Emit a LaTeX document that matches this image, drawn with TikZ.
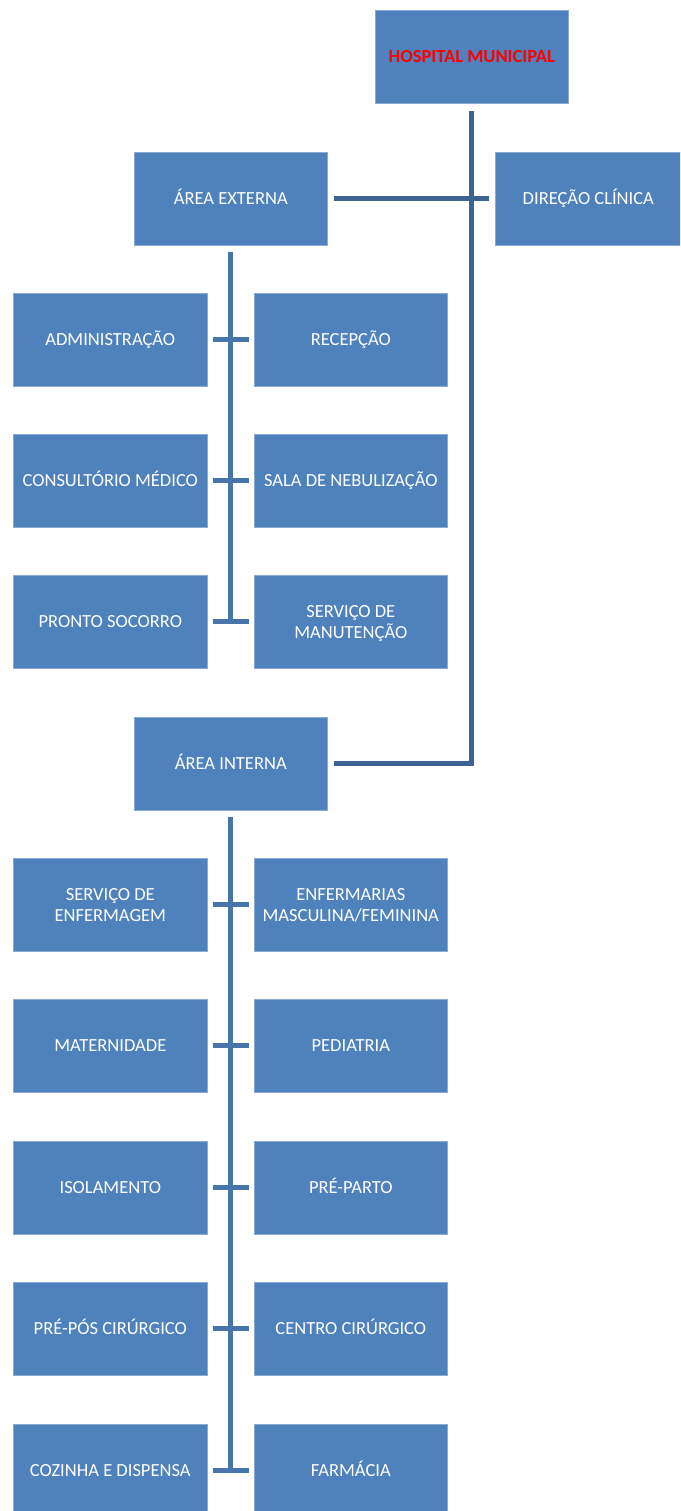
\documentclass[tikz,border=0pt]{standalone}
\usepackage{fontspec}
\setmainfont{Carlito}
\definecolor{boxblue}{HTML}{4F81BD}
\definecolor{boxedge}{HTML}{8DAAD4}
\definecolor{mainline}{HTML}{3D6393}
\definecolor{subline}{HTML}{4874AC}
\definecolor{titlered}{HTML}{FF0000}
\begin{document}
\begin{tikzpicture}[x=1pt,y=-1pt,
  orgbox/.style={draw=boxedge,line width=0.6pt,fill=boxblue,text=white,minimum width=193pt,minimum height=93pt,inner sep=0pt,align=center,font=\fontsize{18.5}{21}\selectfont,anchor=north west,text height=11.9pt,text depth=0pt},
  twoline/.style={text height=32.9pt,text depth=0pt},
  mainconn/.style={draw=mainline,line width=5pt},
  subconn/.style={draw=subline,line width=5pt}]
\useasboundingbox (0,0) rectangle (680,1511);
\begin{scope}
\clip (0,0) rectangle (680,1511);
% top level
\node[orgbox] (hosp) at (375,10) {\textcolor{titlered}{\bfseries HOSPITAL MUNICIPAL}};
\node[orgbox] (ext) at (134,152) {ÁREA EXTERNA};
\node[orgbox,minimum width=186pt] (dir) at (495,152) {DIREÇÃO CLÍNICA};
\node[orgbox] (int) at (134,717) {ÁREA INTERNA};
% external area
\node[orgbox,minimum width=194pt] (adm) at (13,293) {ADMINISTRAÇÃO};
\node[orgbox] (rec) at (254,293) {RECEPÇÃO};
\node[orgbox,minimum width=194pt] (cons) at (13,434) {CONSULTÓRIO MÉDICO};
\node[orgbox] (neb) at (254,434) {SALA DE NEBULIZAÇÃO};
\node[orgbox,minimum width=194pt] (ps) at (13,575) {PRONTO SOCORRO};
\node[orgbox,twoline] (man) at (254,575) {SERVIÇO DE\\MANUTENÇÃO};
% internal area
\node[orgbox,twoline,minimum width=194pt] (senf) at (13,858) {SERVIÇO DE\\ENFERMAGEM};
\node[orgbox,twoline] (enf) at (254,858) {ENFERMARIAS\\MASCULINA/FEMININA};
\node[orgbox,minimum width=194pt] (mat) at (13,999) {MATERNIDADE};
\node[orgbox] (ped) at (254,999) {PEDIATRIA};
\node[orgbox,minimum width=194pt] (iso) at (13,1141) {ISOLAMENTO};
\node[orgbox] (prep) at (254,1141) {PRÉ-PARTO};
\node[orgbox,minimum width=194pt] (ppc) at (13,1282) {PRÉ-PÓS CIRÚRGICO};
\node[orgbox] (cc) at (254,1282) {CENTRO CIRÚRGICO};
\node[orgbox,minimum width=194pt] (coz) at (13,1424) {COZINHA E DISPENSA};
\node[orgbox] (far) at (254,1424) {FARMÁCIA};
\end{scope}
% main connectors
\draw[mainconn] ([yshift=-7pt]hosp.south) |- ([xshift=6pt]int.east);
\draw[mainconn] ([xshift=6pt]ext.east) -- ([xshift=-6pt]dir.west);
% external area connectors
\draw[subconn] ([yshift=-6pt]ext.south) -- (ext.south |- man.center);
\foreach \l/\r in {adm/rec,cons/neb,ps/man}
  \draw[subconn] ([xshift=5pt]\l.east) -- ([xshift=-5pt]\r.west);
% internal area connectors
\draw[subconn] ([yshift=-6pt]int.south) -- (int.south |- far.west);
\foreach \l/\r in {senf/enf,mat/ped,iso/prep,ppc/cc,coz/far}
  \draw[subconn] ([xshift=5pt]\l.east) -- ([xshift=-5pt]\r.west);
\end{tikzpicture}
\end{document}
